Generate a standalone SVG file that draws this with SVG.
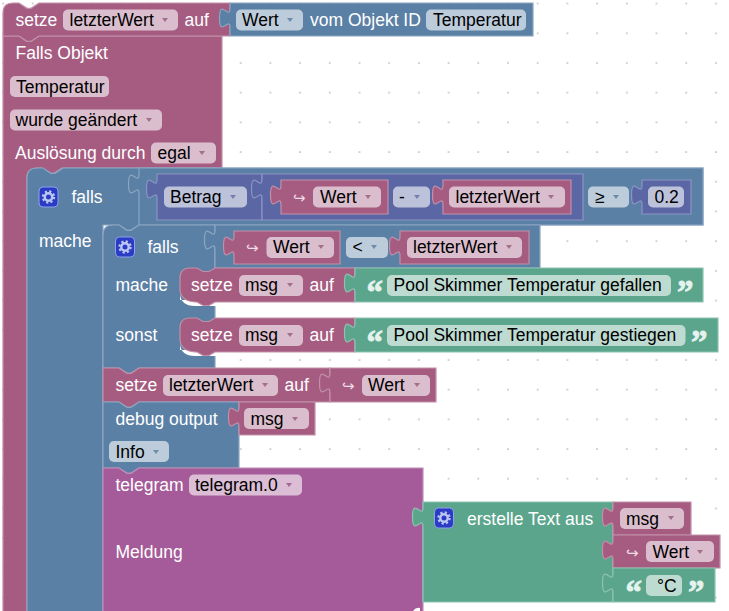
<svg xmlns="http://www.w3.org/2000/svg" width="729" height="611" viewBox="0 0 729 611">
<style>
.p{fill:#A65C81;stroke:#C28FA9;stroke-width:1.2}
.b{fill:#5B80A5;stroke:#8AA6C2;stroke-width:1.2}
.i{fill:#5B67A5;stroke:#8B94C4;stroke-width:1.2}
.g{fill:#5BA58C;stroke:#8CC4B0;stroke-width:1.2}
.v{fill:#A55B99;stroke:#C28DB8;stroke-width:1.2}
text{font-family:"Liberation Sans",Arial,sans-serif;font-size:17.5px;fill:#000}
.l{fill:#fff}
.a{font-family:"DejaVu Sans",sans-serif;font-size:15px;fill:#F0DDE7}
.q{font-family:"Liberation Serif",serif;font-weight:bold;font-size:33px;fill:#E4F3ED;stroke:#E4F3ED;stroke-width:.8}
.fp{fill:#DBBECD}.fb{fill:#BDCCDB}.fi{fill:#BDC2DB}.fg{fill:#BDDBD1}.fv{fill:#DBBDD6}
.dp{fill:#A3708A}.db{fill:#6E8BA8}.di{fill:#7480B0}.dv{fill:#A36A98}
.gi{fill:#2B3CC4;stroke:#8FA0EC;stroke-width:1}
.gc{fill:none;stroke:#BCC8F2}
</style>
<defs>
<pattern id="grid" patternUnits="userSpaceOnUse" x="-11.75" y="-11.35" width="29.7" height="29.7"><circle cx="14.85" cy="14.85" r="0.85" fill="#ABABAB"/></pattern>
<path id="dd" d="M-3,-2h6l-3,4z"/>
<g id="gear">
<rect class="gi" x="0" y="0" width="19" height="20" rx="4"/>
<circle class="gc" cx="9.5" cy="10" r="3.7" stroke-width="2.4"/>
<circle class="gc" cx="9.5" cy="10" r="5.6" stroke-width="2.2" stroke-dasharray="2.2 2.2"/>
</g>
</defs>
<rect width="729" height="611" fill="#fff"/>
<rect width="729" height="611" fill="url(#grid)"/>

<g id="connectors"></g>

<g id="falls-objekt">
<path class="p" d="M3,36H19l8,5.3h4l8,-5.3H222V168H62l-8,5.3h-4l-8,-5.3H37Q27,168 27,178V620H3Z"/>
<text class="l" x="15.5" y="59">Falls Objekt</text>
<rect class="fp" x="10" y="76" width="99" height="21" rx="5"/><text x="16" y="93">Temperatur</text>
<rect class="fp" x="10" y="109.500" width="152" height="21" rx="5"/><text x="15.500" y="126">wurde geändert</text><use href="#dd" class="dp" x="149" y="120"/>
<text class="l" x="15" y="159">Auslösung durch</text>
<rect class="fp" x="151" y="142.500" width="65" height="21" rx="5"/><text x="157.500" y="159">egal</text><use href="#dd" class="dp" x="202" y="153"/>
</g>

<g id="setze-letzterwert-top">
<path class="p" d="M3,13Q3,3 13,3H19l8,5.300h4l8,-5.300H230V36H39l-8,5.300h-4l-8,-5.300H3Z"/>
<text class="l" x="15.500" y="26">setze</text>
<rect class="fp" x="63" y="9.500" width="115" height="21" rx="5"/><text x="69.500" y="26">letzterWert</text><use href="#dd" class="dp" x="165" y="20"/>
<text class="l" x="184.500" y="26">auf</text>
</g>
<g id="wert-vom-objekt">
<path class="b" d="M230,3H533V36H230V28c0,-13 -10.500,10.700 -10.500,-10s10.500,3.300 10.500,-10Z"/>
<rect class="fb" x="236" y="9.500" width="67" height="21" rx="5"/><text x="242" y="26">Wert</text><use href="#dd" class="db" x="290" y="20"/>
<text class="l" x="310" y="26">vom Objekt ID</text>
<rect class="fb" x="426" y="9.500" width="100" height="21" rx="5"/><text x="433" y="26">Temperatur</text>
</g>

<g id="falls-outer">
<path class="b" d="M27,178Q27,168 37,168H43l8,5.300h4l8,-5.300H703V225H139l-8,5.300h-4l-8,-5.300H103V620H27Z"/>
<use href="#gear" x="39" y="187"/>
<text class="l" x="71.500" y="203">falls</text>
<text class="l" x="39" y="247">mache</text>
</g>
<g id="compare-outer">
<path class="b" d="M139,168H703V225H139V194c0,-13 -10.500,10.700 -10.500,-10s10.500,3.300 10.500,-10Z"/>
<rect class="fb" x="588" y="186.500" width="41" height="21" rx="5"/><text x="595" y="203">≥</text><use href="#dd" class="db" x="616" y="197"/>
</g>
<g id="betrag">
<path class="i" d="M157,174H262V220H157V199c0,-13 -10.500,10.700 -10.500,-10s10.500,3.300 10.500,-10Z"/>
<rect class="fi" x="164" y="186.500" width="83" height="21" rx="5"/><text x="170" y="203">Betrag</text><use href="#dd" class="di" x="233" y="197"/>
</g>
<g id="minus">
<path class="i" d="M262,174H583V220H262V199c0,-13 -10.500,10.700 -10.500,-10s10.500,3.300 10.500,-10Z"/>
<rect class="fi" x="393" y="186.500" width="37" height="21" rx="5"/><text x="399" y="203">-</text><use href="#dd" class="di" x="417" y="197"/>
</g>
<g id="wert-1">
<path class="p" d="M281,180H388V214H281V205c0,-13 -10.500,10.700 -10.500,-10s10.500,3.300 10.500,-10Z"/>
<text class="a" x="293" y="203">↪</text>
<rect class="fp" x="313" y="186.500" width="68" height="21" rx="5"/><text x="320" y="203">Wert</text><use href="#dd" class="dp" x="368" y="197"/>
</g>
<g id="letzterwert-1">
<path class="p" d="M443,180H571V214H443V205c0,-13 -10.500,10.700 -10.500,-10s10.500,3.300 10.500,-10Z"/>
<rect class="fp" x="449" y="186.500" width="116" height="21" rx="5"/><text x="455.500" y="203">letzterWert</text><use href="#dd" class="dp" x="551" y="197"/>
</g>
<g id="zahl-02">
<path class="i" d="M642,180H691V214H642V205c0,-13 -10.500,10.700 -10.500,-10s10.500,3.300 10.500,-10Z"/>
<rect class="fi" x="648" y="186.500" width="36" height="21" rx="5"/><text x="654.500" y="203">0.2</text>
</g>

<g id="falls-inner">
<path class="b" d="M103,235Q103,225 113,225H119l8,5.300h4l8,-5.300H215V368H139l-8,5.300h-4l-8,-5.300H103Z"/>
<use href="#gear" x="115.500" y="237"/>
<text class="l" x="147.500" y="253">falls</text>
<text class="l" x="115.500" y="291">mache</text>
<text class="l" x="115.500" y="341">sonst</text>
</g>
<g id="compare-inner">
<path class="b" d="M215,225H540V268H215V250c0,-13 -10.500,10.700 -10.500,-10s10.500,3.300 10.500,-10Z"/>
<rect class="fb" x="346" y="237" width="42" height="21" rx="5"/><text x="352.500" y="253">&lt;</text><use href="#dd" class="db" x="374" y="247"/>
</g>
<g id="wert-2">
<path class="p" d="M234,231H340V264H234V256c0,-13 -10.500,10.700 -10.500,-10s10.500,3.300 10.500,-10Z"/>
<text class="a" x="246" y="253">↪</text>
<rect class="fp" x="266.500" y="237" width="67.500" height="21" rx="5"/><text x="273" y="253">Wert</text><use href="#dd" class="dp" x="321" y="247"/>
</g>
<g id="letzterwert-2">
<path class="p" d="M400,231H529V264H400V256c0,-13 -10.500,10.700 -10.500,-10s10.500,3.300 10.500,-10Z"/>
<rect class="fp" x="407" y="237" width="115" height="21" rx="5"/><text x="413" y="253">letzterWert</text><use href="#dd" class="dp" x="509" y="247"/>
</g>

<g id="setze-msg-gefallen">
<path fill="#fff" d="M180,294Q181,306 195,306H216V300H180Z"/>
<path class="p" d="M180,278Q180,268 190,268H197l6,3.500h6l6,-3.500H355V302H215l-6,3.500h-6l-6,-3.500H195Q181,301 180,290Z"/>
<text class="l" x="191" y="291">setze</text>
<rect class="fp" x="239" y="275" width="64" height="21" rx="5"/><text x="245" y="291">msg</text><use href="#dd" class="dp" x="290" y="285"/>
<text class="l" x="309.500" y="291">auf</text>
</g>
<g id="text-gefallen">
<path class="g" d="M355,268H703V302H355V293c0,-13 -10.500,10.700 -10.500,-10s10.500,3.300 10.500,-10Z"/>
<text class="q" x="366.500" y="302.800">“</text>
<rect class="fg" x="387" y="275" width="284" height="21" rx="5"/><text x="393.500" y="291">Pool Skimmer Temperatur gefallen</text>
<text class="q" x="677" y="302.800">”</text>
</g>

<g id="setze-msg-gestiegen">
<path fill="#fff" d="M180,344Q181,356 195,356H216V350H180Z"/>
<path class="p" d="M180,328Q180,318 190,318H197l6,3.500h6l6,-3.500H355V352H215l-6,3.500h-6l-6,-3.500H195Q181,351 180,340Z"/>
<text class="l" x="191" y="341">setze</text>
<rect class="fp" x="239" y="325" width="64" height="21" rx="5"/><text x="245" y="341">msg</text><use href="#dd" class="dp" x="290" y="335"/>
<text class="l" x="309.500" y="341">auf</text>
</g>
<g id="text-gestiegen">
<path class="g" d="M355,318H718V352H355V343c0,-13 -10.500,10.700 -10.500,-10s10.500,3.300 10.500,-10Z"/>
<text class="q" x="366.500" y="352.800">“</text>
<rect class="fg" x="387" y="325" width="298.500" height="21" rx="5"/><text x="393.500" y="341">Pool Skimmer Temperatur gestiegen</text>
<text class="q" x="691" y="352.800">”</text>
</g>

<g id="setze-letzterwert-2">
<path class="p" d="M103,368H119l8,5.300h4l8,-5.300H330V402H139l-8,5.300h-4l-8,-5.300H103Z"/>
<text class="l" x="115.500" y="391">setze</text>
<rect class="fp" x="163" y="375" width="115" height="21" rx="5"/><text x="169" y="391">letzterWert</text><use href="#dd" class="dp" x="265" y="385"/>
<text class="l" x="284.500" y="391">auf</text>
</g>
<g id="wert-3">
<path class="p" d="M330,368H436V402H330V393c0,-13 -10.500,10.700 -10.500,-10s10.500,3.300 10.500,-10Z"/>
<text class="a" x="342" y="391">↪</text>
<rect class="fp" x="362" y="375" width="68" height="21" rx="5"/><text x="368" y="391">Wert</text><use href="#dd" class="dp" x="417" y="385"/>
</g>

<g id="debug-output">
<path class="b" d="M103,402H119l8,5.300h4l8,-5.300H239V468H139l-8,5.300h-4l-8,-5.300H103Z"/>
<text class="l" x="115.500" y="425">debug output</text>
<rect class="fb" x="109" y="441" width="60" height="21" rx="5"/><text x="115.500" y="458">Info</text><use href="#dd" class="db" x="156" y="452"/>
</g>
<g id="msg-debug">
<path class="p" d="M239,402H315V435H239V427c0,-13 -10.500,10.700 -10.500,-10s10.500,3.300 10.500,-10Z"/>
<rect class="fp" x="244" y="408" width="65" height="21" rx="5"/><text x="250.500" y="425">msg</text><use href="#dd" class="dp" x="295" y="419"/>
</g>

<g id="telegram">
<path class="v" d="M103,468H119l8,5.300h4l8,-5.300H423V620H103Z"/>
<path fill="#fff" d="M413,611Q416,607 420,608V611Z"/>
<text class="l" x="115.500" y="491">telegram</text>
<rect class="fv" x="189" y="474.500" width="113" height="21" rx="5"/><text x="195" y="491">telegram.0</text><use href="#dd" class="dv" x="289" y="485"/>
<text class="l" x="115.500" y="558">Meldung</text>
</g>
<g id="erstelle-text">
<path class="g" d="M423,502H613V602H423V527c0,-13 -10.500,10.700 -10.500,-10s10.500,3.300 10.500,-10Z"/>
<use href="#gear" x="434.500" y="508"/>
<text class="l" x="467" y="525">erstelle Text aus</text>
</g>
<g id="msg-text">
<path class="p" d="M613,502H691V535H613V527c0,-13 -10.500,10.700 -10.500,-10s10.500,3.300 10.500,-10Z"/>
<rect class="fp" x="620" y="508" width="64" height="21" rx="5"/><text x="626" y="525">msg</text><use href="#dd" class="dp" x="671" y="518"/>
</g>
<g id="wert-4">
<path class="p" d="M613,535H720V568H613V560c0,-13 -10.500,10.700 -10.500,-10s10.500,3.300 10.500,-10Z"/>
<text class="a" x="626" y="558">↪</text>
<rect class="fp" x="646" y="541" width="68" height="21" rx="5"/><text x="652.500" y="558">Wert</text><use href="#dd" class="dp" x="700" y="552"/>
</g>
<g id="text-grad">
<path class="g" d="M613,568H715V602H613V593c0,-13 -10.500,10.700 -10.500,-10s10.500,3.300 10.500,-10Z"/>
<text class="q" x="625.500" y="602.800">“</text>
<rect class="fg" x="646" y="575" width="36" height="21" rx="5"/><text x="657" y="592">°C</text>
<text class="q" x="688" y="602.800">”</text>
</g>
</svg>
